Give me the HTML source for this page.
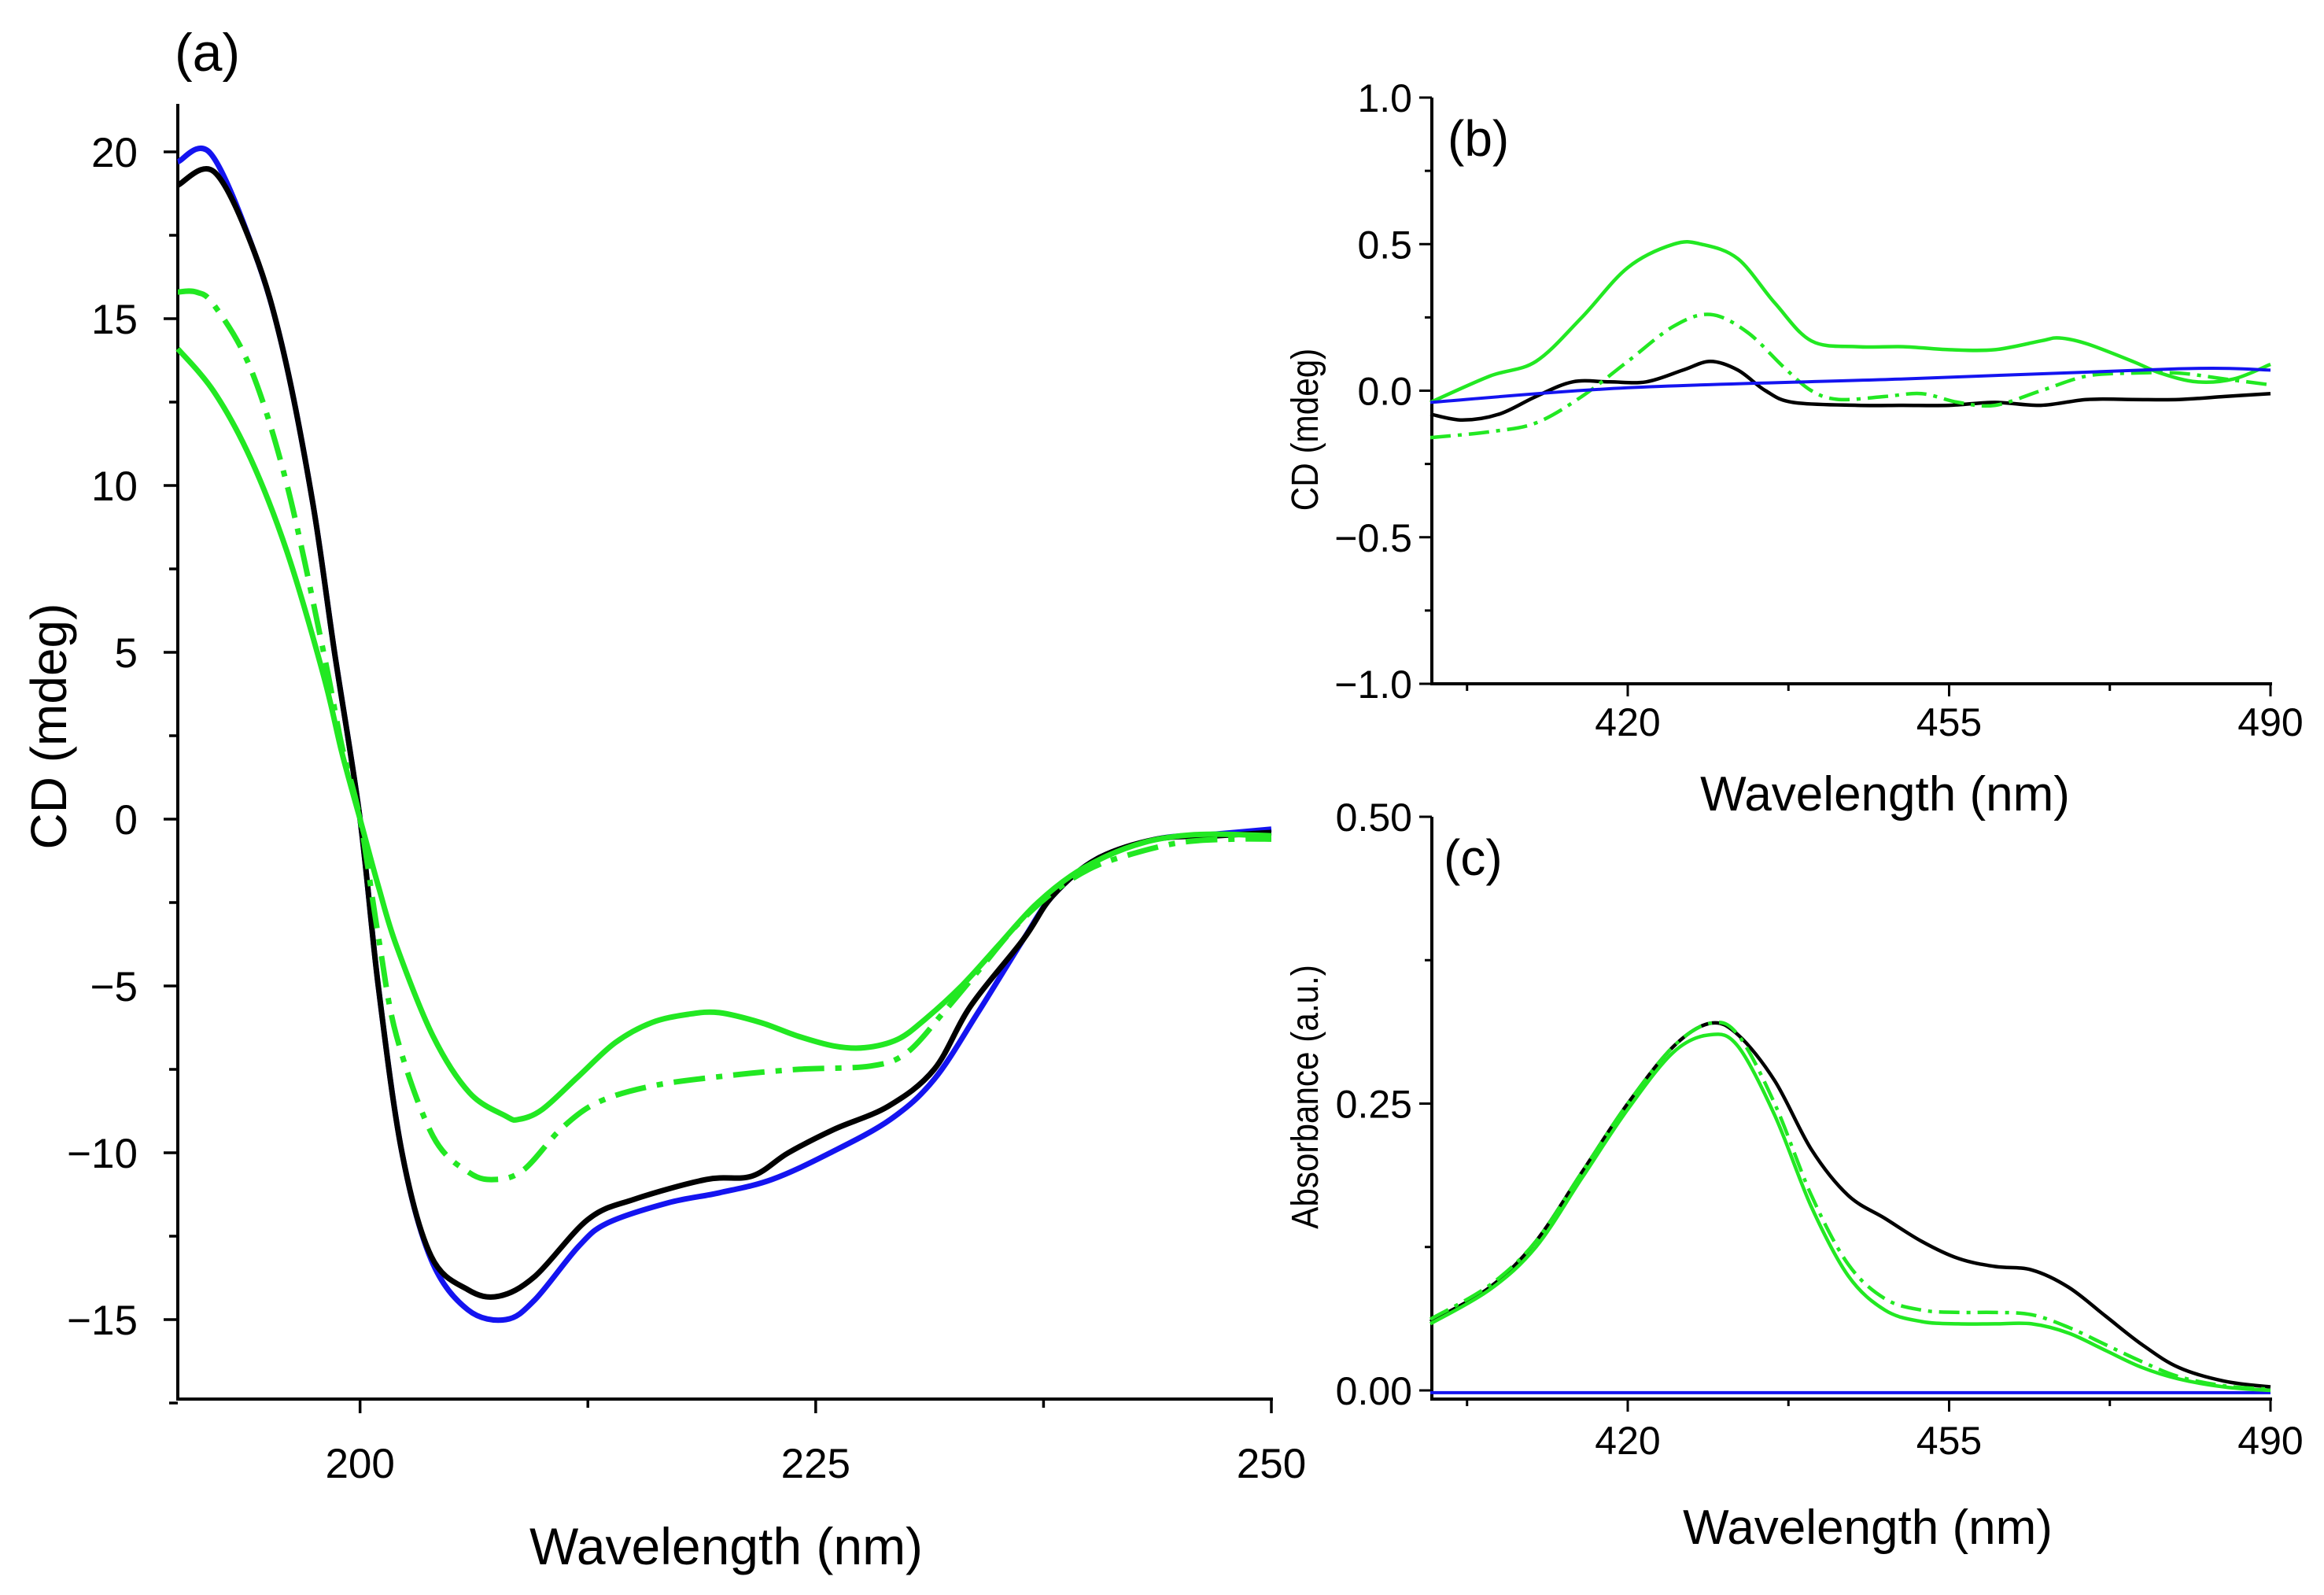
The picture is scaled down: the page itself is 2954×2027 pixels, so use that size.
<!DOCTYPE html>
<html><head><meta charset="utf-8">
<style>
html,body{margin:0;padding:0;background:#fff;}
svg{display:block;font-family:"Liberation Sans",Arial,sans-serif;}
</style></head>
<body>
<svg id="fig" width="2954" height="2027" viewBox="0 0 2954 2027" xmlns="http://www.w3.org/2000/svg">
<rect width="2954" height="2027" fill="#fff"/>
</svg>
<script>
// ---------- Panel (a) data ----------
const aBlueX=[190,191.8,194.2,195.8,197.4,198.6,200,201,202.3,203.9,205.9,208,209.6,212,213.6,216.9,219.7,222.6,225.8,229.1,231.5,233.9,236.4,238,240.4,243.7,246.9,250];
const aBlueY=[19.7,19.95,17,14,9.5,5,0,-5,-10,-13.2,-14.7,-15,-14.4,-12.8,-12.1,-11.5,-11.2,-10.8,-10,-9,-7.8,-5.8,-3.6,-2.3,-1.2,-0.6,-0.45,-0.3];
const aBlackX=[190,192,194.2,195.8,197.4,198.6,200,201,202.3,203.9,205.9,207.6,209.6,212.5,215,219,221.5,223.5,226,229,231.5,233.5,236.4,238,240.4,243.7,246.9,250];
const aBlackY=[19,19.4,17,14,9.5,5,0,-5,-10,-13.1,-14.1,-14.3,-13.7,-12,-11.4,-10.8,-10.7,-10,-9.3,-8.6,-7.5,-5.6,-3.6,-2.3,-1.2,-0.6,-0.5,-0.4];
const aGreenX=[190,192,194,196,198,199,200,201,202,204,206,208,208.7,210,212,214,216,218,219.7,222,224,226,227.7,229.5,231,233,235,237,239,241,243,245,247,250];
const aGreenY=[14.1,12.8,10.8,8,4.3,2,0,-2,-3.8,-6.5,-8.2,-8.9,-9,-8.7,-7.7,-6.7,-6.1,-5.85,-5.8,-6.1,-6.5,-6.8,-6.85,-6.6,-6,-5,-3.8,-2.6,-1.7,-1.1,-0.7,-0.5,-0.45,-0.5];
const aDashX=[190,191,192,194,196,198,199,200,201,202,204,206,207.5,209,211,213,216,220,224,228,230,232,234,236,238,240,242,245,248,250];
const aDashY=[15.8,15.8,15.4,13.5,10,5,2.2,0,-3.5,-6.5,-9.5,-10.6,-10.8,-10.5,-9.3,-8.5,-8,-7.7,-7.5,-7.4,-7,-5.8,-4.5,-3.2,-2.2,-1.5,-1.1,-0.7,-0.6,-0.6];
const aXTicks=[200,225,250];
const aYTicks=[20,15,10,5,0,-5,-10,-15];
// ---------- Panel (b) data ----------
const bGreenX=[398.5,405,410,415,420,425,428,432,436,440,445,450,455,460,465,467,470,475,478,482,486,490];
const bGreenY=[-0.04,0.05,0.1,0.25,0.42,0.5,0.5,0.45,0.3,0.17,0.15,0.15,0.14,0.14,0.17,0.18,0.16,0.1,0.06,0.03,0.04,0.09];
const bDashX=[398.5,405,410,415,420,425,429,433,437,440,443,448,452,456,460,465,470,475,480,485,490];
const bDashY=[-0.16,-0.14,-0.11,-0.02,0.1,0.22,0.26,0.2,0.08,0.0,-0.03,-0.02,-0.01,-0.04,-0.05,0.0,0.05,0.06,0.06,0.04,0.02];
const bBlackX=[398.5,402,406,410,414,418,422,426,429,432,435,438,445,450,455,460,465,470,475,480,485,490];
const bBlackY=[-0.08,-0.1,-0.08,-0.02,0.03,0.03,0.03,0.07,0.1,0.07,0.0,-0.04,-0.05,-0.05,-0.05,-0.04,-0.05,-0.03,-0.03,-0.03,-0.02,-0.01];
const bBlueX=[398.5,420,450,480,490];
const bBlueY=[-0.04,0.01,0.04,0.075,0.07];
const bXTicks=[420,455,490];
const bYTicks=[1.0,0.5,0.0,-0.5,-1.0];
const bYLabels=["1.0","0.5","0.0","\u22120.5","\u22121.0"];
// ---------- Panel (c) data ----------
const cBlackX=[398.5,405,410,415,420,425,429,432,436,440,444,448,452,456,460,464,468,472,476,480,485,490];
const cBlackY=[0.06,0.09,0.13,0.19,0.25,0.3,0.32,0.31,0.27,0.21,0.17,0.15,0.13,0.115,0.108,0.105,0.09,0.065,0.04,0.02,0.008,0.003];
const cGreenX=[398.5,405,410,415,420,425,429,432,436,440,444,448,452,456,460,464,468,472,476,480,485,490];
const cGreenY=[0.058,0.088,0.125,0.185,0.245,0.295,0.31,0.3,0.24,0.16,0.1,0.07,0.06,0.058,0.058,0.058,0.05,0.035,0.02,0.01,0.003,0.0];
const cDashX=[398.5,405,410,415,420,425,429,432,436,440,444,448,452,456,460,464,468,472,476,480,485,490];
const cDashY=[0.062,0.092,0.13,0.19,0.25,0.3,0.32,0.31,0.25,0.17,0.11,0.08,0.07,0.068,0.068,0.066,0.055,0.04,0.025,0.012,0.004,0.001];
const cBlueX=[398.5,490];
const cBlueY=[-0.002,-0.002];
const cXTicks=[420,455,490];
const cYTicks=[0.5,0.25,0];
const cYLabels=["0.50","0.25","0.00"];

const NS="http://www.w3.org/2000/svg";
const svg=document.getElementById('fig');
function mk(tag,attrs,parent){const e=document.createElementNS(NS,tag);for(const k in attrs)e.setAttribute(k,attrs[k]);(parent||svg).appendChild(e);return e;}
function lin(d0,d1,r0,r1){return v=>r0+(v-d0)/(d1-d0)*(r1-r0);}
function smooth(xs,ys,sx,sy){
  const p=xs.map((x,i)=>[sx(x),sy(ys[i])]);
  let d='M'+p[0][0].toFixed(1)+','+p[0][1].toFixed(1);
  for(let i=0;i<p.length-1;i++){
    const p0=p[i-1]||p[i],p1=p[i],p2=p[i+1],p3=p[i+2]||p2;
    const c1=[p1[0]+(p2[0]-p0[0])/6,p1[1]+(p2[1]-p0[1])/6];
    const c2=[p2[0]-(p3[0]-p1[0])/6,p2[1]-(p3[1]-p1[1])/6];
    d+=' C'+c1[0].toFixed(1)+','+c1[1].toFixed(1)+' '+c2[0].toFixed(1)+','+c2[1].toFixed(1)+' '+p2[0].toFixed(1)+','+p2[1].toFixed(1);
  }
  return d;
}
const BLUE="#1414f0",GREEN="#22e822",BLACK="#000";

// ===== Panel (a) =====
const ax=lin(190,250,226,1616), ay=lin(0,-15,1041,1677);
const ga=mk('g',{});


let e;
e=mk('line',{x1:226,y1:132,x2:226,y2:1780,stroke:'#000','stroke-width':4},ga);

e=mk('line',{x1:224,y1:1778,x2:1618,y2:1778,stroke:'#000','stroke-width':4},ga);

for(let v=-17.5;v<=20.1;v+=2.5){const y=ay(v);const major=Math.abs(v%5)<0.01;mk('line',{x1:226-(major?18:11),y1:y,x2:226,y2:y,stroke:'#000','stroke-width':3.5},ga);}
aYTicks.forEach(v=>{e=mk('text',{x:175,y:ay(v)+19,'text-anchor':'end','font-size':53},ga);e.textContent=v<0?'\u2212'+(-v):String(v);
});
[200,212.5,225,237.5,250].forEach(v=>{const x=ax(v);const major=aXTicks.includes(v);mk('line',{x1:x,y1:1778,x2:x,y2:1778+(major?18:11),stroke:'#000','stroke-width':3.5},ga);});
aXTicks.forEach(v=>{e=mk('text',{x:ax(v),y:1878,'text-anchor':'middle','font-size':53},ga);e.textContent=v;
});
e=mk('text',{x:923,y:1988,'text-anchor':'middle','font-size':66},ga);e.textContent='Wavelength (nm)';

e=mk('text',{x:0,y:0,'text-anchor':'middle','font-size':64,transform:'translate(84,923) rotate(-90)'},ga);e.textContent='CD (mdeg)';

e=mk('text',{x:222,y:90,'font-size':68},ga);e.textContent='(a)';

e=mk('path',{d:smooth(aBlueX,aBlueY,ax,ay),fill:'none',stroke:BLUE,'stroke-width':7},ga);

e=mk('path',{d:smooth(aBlackX,aBlackY,ax,ay),fill:'none',stroke:BLACK,'stroke-width':7},ga);

e=mk('path',{d:smooth(aDashX,aDashY,ax,ay),fill:'none',stroke:GREEN,'stroke-width':7,'stroke-dasharray':'40 14 8 14'},ga);

e=mk('path',{d:smooth(aGreenX,aGreenY,ax,ay),fill:'none',stroke:GREEN,'stroke-width':7},ga);


// ===== Panel (b) =====
const bx=lin(420,490,2069,2886), by=lin(1,-1,124,869);
const gb=mk('g',{});


e=mk('line',{x1:1820,y1:124,x2:1820,y2:871,stroke:'#000','stroke-width':4},gb);

e=mk('line',{x1:1818,y1:869,x2:2888,y2:869,stroke:'#000','stroke-width':4},gb);

for(let v=-1;v<=1.01;v+=0.25){const y=by(v);const major=Math.abs((v*2)%1)<0.01;mk('line',{x1:1820-(major?16:9),y1:y,x2:1820,y2:y,stroke:'#000','stroke-width':3},gb);}
bYTicks.forEach((v,i)=>{e=mk('text',{x:1795,y:by(v)+18,'text-anchor':'end','font-size':50},gb);e.textContent=bYLabels[i];
});
[402.5,420,437.5,455,472.5,490].forEach(v=>{const x=bx(v);const major=bXTicks.includes(v);mk('line',{x1:x,y1:869,x2:x,y2:869+(major?16:9),stroke:'#000','stroke-width':3},gb);});
bXTicks.forEach(v=>{e=mk('text',{x:bx(v),y:935,'text-anchor':'middle','font-size':50},gb);e.textContent=v;
});
e=mk('text',{x:2396,y:1030,'text-anchor':'middle','font-size':62},gb);e.textContent='Wavelength (nm)';

e=mk('text',{x:0,y:0,'text-anchor':'middle','font-size':48,transform:'translate(1675,546) rotate(-90) scale(0.88,1)'},gb);e.textContent='CD (mdeg)';

e=mk('text',{x:1840,y:198,'font-size':64},gb);e.textContent='(b)';

e=mk('path',{d:smooth(bBlackX,bBlackY,bx,by),fill:'none',stroke:BLACK,'stroke-width':4.5},gb);

e=mk('path',{d:smooth(bDashX,bDashY,bx,by),fill:'none',stroke:GREEN,'stroke-width':4.5,'stroke-dasharray':'26 9 5 9'},gb);

e=mk('path',{d:smooth(bGreenX,bGreenY,bx,by),fill:'none',stroke:GREEN,'stroke-width':4.5},gb);

e=mk('path',{d:smooth(bBlueX,bBlueY,bx,by),fill:'none',stroke:BLUE,'stroke-width':4},gb);


// ===== Panel (c) =====
const cx=lin(420,490,2069,2886), cy=lin(0.5,0,1038,1767);
const gc=mk('g',{});


e=mk('line',{x1:1820,y1:1038,x2:1820,y2:1780,stroke:'#000','stroke-width':4},gc);

e=mk('line',{x1:1818,y1:1778,x2:2888,y2:1778,stroke:'#000','stroke-width':4},gc);

for(let v=0;v<=0.501;v+=0.125){const y=cy(v);const major=Math.abs((v*4)%1)<0.01;mk('line',{x1:1820-(major?16:9),y1:y,x2:1820,y2:y,stroke:'#000','stroke-width':3},gc);}
cYTicks.forEach((v,i)=>{e=mk('text',{x:1795,y:cy(v)+18,'text-anchor':'end','font-size':50},gc);e.textContent=cYLabels[i];
});
[402.5,420,437.5,455,472.5,490].forEach(v=>{const x=cx(v);const major=cXTicks.includes(v);mk('line',{x1:x,y1:1778,x2:x,y2:1778+(major?16:9),stroke:'#000','stroke-width':3},gc);});
cXTicks.forEach(v=>{e=mk('text',{x:cx(v),y:1848,'text-anchor':'middle','font-size':50},gc);e.textContent=v;
});
e=mk('text',{x:2374,y:1962,'text-anchor':'middle','font-size':62},gc);e.textContent='Wavelength (nm)';

e=mk('text',{x:0,y:0,'text-anchor':'middle','font-size':48,transform:'translate(1675,1394) rotate(-90) scale(0.88,1)'},gc);e.textContent='Absorbance (a.u.)';

e=mk('text',{x:1835,y:1112,'font-size':64},gc);e.textContent='(c)';

e=mk('path',{d:smooth(cBlueX,cBlueY,cx,cy),fill:'none',stroke:BLUE,'stroke-width':4},gc);

e=mk('path',{d:smooth(cBlackX,cBlackY,cx,cy),fill:'none',stroke:BLACK,'stroke-width':4.5},gc);

e=mk('path',{d:smooth(cDashX,cDashY,cx,cy),fill:'none',stroke:GREEN,'stroke-width':4.5,'stroke-dasharray':'26 9 5 9'},gc);

e=mk('path',{d:smooth(cGreenX,cGreenY,cx,cy),fill:'none',stroke:GREEN,'stroke-width':4.5},gc);

</script>
</body></html>
